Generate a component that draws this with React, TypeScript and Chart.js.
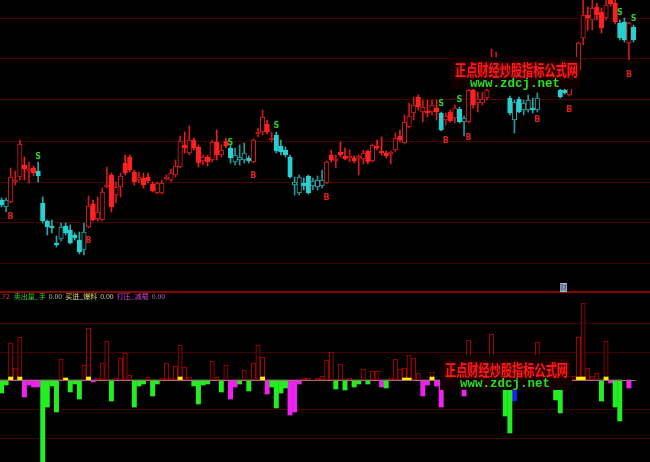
import React, { useEffect, useRef } from 'react';
import { Chart, registerables } from 'chart.js';

Chart.register(...registerables);

// ---- Daily price data (one entry per trading day) ----
const open = [
  100, 93, 98, 118, 123, 135, 129, 132, 129, 97,
  79, 74, 57, 61, 74, 70, 65, 60, 50, 73,
  96, 81, 80, 113, 125, 105, 113, 137, 143, 128,
  120, 122, 123, 116, 107, 107, 121, 120, 125, 133,
  155, 147, 160, 153, 139, 143, 140, 158, 145, 159,
  152, 138, 140, 140, 142, 138, 166, 168, 176, 160,
  165, 154, 150, 143, 115, 107, 117, 124, 114, 113,
  114, 117, 145, 139, 148, 144, 142, 142, 142, 141,
  149, 139, 154, 149, 147, 146, 150, 164, 157, 173,
  187, 203, 188, 189, 188, 192, 187, 180, 188, 182,
  191, 178, 178, 210, 197, 197, 202, 214, 220, 232,
  228, 202, 180, 201, 190, 190, 192, 190, 212, 228,
  220, 224, 210, 210, 205, 214, 230, 262, 285, 280,
  293, 288, 282, 300, 297, 277, 278, 257, 273,
];
const high = [
  102, 102, 132, 129, 160, 143, 138, 134, 138, 103,
  80, 80, 64, 77, 77, 75, 67, 68, 77, 104,
  100, 103, 112, 133, 127, 118, 127, 145, 145, 130,
  128, 127, 127, 118, 118, 120, 125, 131, 140, 164,
  168, 174, 162, 155, 145, 145, 160, 170, 155, 162,
  155, 152, 155, 157, 144, 161, 172, 190, 180, 168,
  168, 160, 153, 145, 123, 125, 122, 125, 122, 124,
  130, 139, 150, 145, 158, 152, 150, 144, 145, 150,
  150, 156, 160, 163, 149, 149, 167, 170, 185, 197,
  203, 205, 200, 200, 200, 200, 188, 187, 190, 195,
  193, 184, 212, 212, 208, 208, 215, 251, 248, 238,
  234, 204, 200, 203, 200, 205, 202, 207, 226, 234,
  236, 230, 212, 212, 215, 242, 258, 300, 293, 300,
  297, 292, 300, 302, 300, 280, 282, 278, 275,
];
const low = [
  93, 88, 97, 115, 120, 120, 117, 124, 118, 77,
  65, 67, 53, 59, 65, 56, 60, 46, 45, 72,
  79, 79, 79, 112, 88, 97, 103, 125, 128, 115,
  117, 112, 117, 108, 106, 106, 120, 118, 123, 132,
  147, 145, 150, 133, 135, 134, 138, 140, 143, 152,
  137, 135, 135, 137, 137, 137, 163, 165, 166, 158,
  147, 145, 143, 122, 105, 105, 110, 106, 110, 110,
  112, 116, 138, 132, 143, 140, 138, 137, 125, 136,
  136, 138, 150, 145, 142, 136, 148, 158, 156, 172,
  180, 190, 178, 183, 185, 180, 169, 175, 178, 177,
  177, 164, 177, 192, 188, 195, 200, 211, 216, 212,
  212, 185, 167, 187, 185, 188, 187, 188, 211, 214,
  214, 212, 202, 206, 204, 212, 228, 255, 270, 270,
  280, 267, 280, 294, 276, 260, 258, 240, 258,
];
const close = [
  95, 100, 123, 120, 156, 131, 130, 127, 124, 79,
  73, 72, 55, 73, 67, 57, 62, 48, 68, 94,
  80, 88, 108, 115, 93, 113, 124, 127, 130, 118,
  123, 115, 119, 109, 117, 117, 123, 127, 134, 159,
  152, 160, 152, 137, 143, 138, 158, 145, 150, 154,
  142, 145, 143, 147, 139, 160, 168, 183, 168, 162,
  149, 148, 145, 123, 118, 123, 114, 107, 119, 120,
  120, 138, 140, 141, 145, 141, 144, 139, 144, 147,
  138, 155, 152, 147, 144, 148, 162, 160, 178, 184,
  195, 193, 193, 187, 195, 188, 170, 184, 179, 192,
  178, 182, 210, 195, 201, 201, 210, 238, 240, 218,
  214, 187, 198, 188, 197, 200, 190, 202, 220, 218,
  230, 214, 203, 207, 212, 236, 257, 285, 282, 292,
  285, 272, 295, 296, 278, 262, 260, 277, 260,
];
// indicator state per day: 1 = strong zone (red candles), 0 = weak zone (cyan candles)
const zone = [
  0, 0, 1, 1, 1, 1, 1, 1, 0, 0,
  0, 0, 0, 0, 0, 0, 0, 0, 0, 1,
  1, 1, 1, 1, 1, 1, 1, 1, 1, 1,
  1, 1, 1, 1, 1, 1, 1, 1, 1, 1,
  1, 1, 1, 1, 1, 1, 1, 1, 1, 1,
  0, 0, 0, 0, 0, 1, 1, 1, 1, 1,
  0, 0, 0, 0, 0, 0, 0, 0, 0, 0,
  0, 1, 1, 1, 1, 1, 1, 1, 1, 1,
  1, 1, 1, 1, 1, 1, 1, 1, 1, 1,
  1, 1, 1, 1, 1, 1, 0, 1, 1, 1,
  0, 0, 1, 1, 1, 1, 1, 1, 1, 1,
  0, 0, 0, 0, 0, 0, 0, 0, 0, 0,
  1, 0, 0, 0, 1, 1, 1, 1, 1, 1,
  1, 1, 1, 1, 1, 0, 0, 1, 0,
];

// signals: [day, price where the letter sits]
const sellSignals = [[8, 143], [50, 157], [60, 174], [96, 196], [100, 200], [135, 287], [138, 281]];
const buySignals = [[2, 83], [19, 59], [55, 124], [71, 102], [97, 159], [102, 162], [117, 180], [124, 190], [137, 225]];

const priceGridLevels = [282, 242, 201, 159, 118, 78, 37];
const volGridLevels = [57, 28, -29, -58];

// ---- lower panel series: [day, value] ----
const volumePairs = [
  [2, 37], [3, 12], [4, 43], [13, 21], [14, 2], [18, 15], [19, 52], [21, 2], [22, 17], [23, 39],
  [25, 2], [26, 22], [27, 27], [28, 5], [32, 3], [35, 2], [36, 17], [37, 2], [38, 14], [39, 35],
  [40, 13], [41, 3], [46, 19], [47, 3], [49, 15], [53, 10], [55, 17], [56, 35], [57, 23], [66, 2],
  [67, 2], [69, 2], [70, 4], [71, 20], [72, 28], [74, 16], [76, 2], [79, 11], [81, 9], [82, 9],
  [85, 2], [86, 21], [87, 11], [88, 12], [89, 25], [90, 22], [91, 7], [94, 8], [98, 8], [99, 5],
  [102, 40], [104, 10], [105, 6], [106, 12], [107, 46], [108, 15], [109, 5], [114, 6], [115, 9], [117, 38],
  [118, 12], [119, 4], [120, 8], [124, 6], [125, 4], [126, 43], [127, 77], [128, 12], [129, 4], [130, 7],
  [132, 39],
];
const sellQtyPairs = [
  [0, -13], [1, -5], [9, -85], [10, -27], [11, -6], [12, -32], [15, -12], [16, -4], [17, -19], [24, -21],
  [29, -27], [30, -6], [31, -4], [33, -16], [34, -4], [42, -6], [43, -24], [44, -5], [45, -4], [48, -12],
  [52, -4], [54, -11], [59, -7], [60, -28], [61, -13], [62, -8], [73, -9], [75, -10], [77, -7], [78, -4],
  [80, -4], [84, -8], [97, -6], [110, -36], [111, -53], [113, -5], [116, -8], [121, -20], [122, -33], [131, -21],
  [134, -27], [135, -41],
];
const pressPairs = [
  [5, -17], [6, -5], [7, -7], [8, -7], [20, -2], [50, -19], [51, -7], [58, -14], [63, -35], [64, -32],
  [65, -4], [83, -7], [92, -16], [93, -5], [95, -6], [96, -27], [100, -8], [101, -16], [133, -3], [137, -8],
];
const blockPairs = [[112, -21]];
const buyPairs = [[2, 3], [4, 3], [14, 2], [19, 3], [39, 3], [57, 3], [88, 2], [89, 2], [94, 3], [126, 3], [127, 3], [132, 3]];

const legendLead = '.72';
const legendNames = ['卖出量_手', '买进_爆料', '打压_减载'];
const legendValues = ['0.00', '0.00', '0.00'];
const watermarkTitle = '正点财经炒股指标公式网';
const watermarkUrl = 'www.zdcj.net';

const N = open.length;
const X_MIN = -0.33;
const X_MAX = 141.6;

function fromPairs(pairs: number[][]) {
  return pairs.map(([i, v]) => ({ x: i, y: v }));
}

function candleStyles() {
  const body: string[] = [];
  const border: string[] = [];
  const wick: string[] = [];
  for (let i = 0; i < N; i++) {
    const up = close[i] >= open[i];
    if (zone[i] === 1) {
      if (up) { body.push('#000000'); border.push('#e01c1c'); wick.push('#d21818'); }
      else { body.push('#ff2020'); border.push('#ff2020'); wick.push('#f01c1c'); }
    } else {
      if (up) { body.push('#000000'); border.push('#2ba8a8'); wick.push('#249a9a'); }
      else { body.push('#28d0d0'); border.push('#28d0d0'); wick.push('#22acac'); }
    }
  }
  return { body, border, wick };
}

function drawWatermark(ctx: CanvasRenderingContext2D, bx: number, by: number, bw: number, bh: number,
  tx: number, tcy: number, tw: number, ux: number, ub: number, uw: number) {
  ctx.save();
  ctx.fillStyle = '#110000';
  ctx.fillRect(bx, by, bw, bh);
  ctx.restore();

  ctx.save();
  ctx.font = 'bold 16px "Noto Sans CJK SC"';
  ctx.textAlign = 'left';
  ctx.textBaseline = 'middle';
  const w1 = ctx.measureText(watermarkTitle).width;
  ctx.translate(tx, tcy);
  ctx.scale(tw / w1, 1);
  ctx.shadowColor = 'rgba(150,0,0,0.9)';
  ctx.shadowBlur = 4;
  ctx.fillStyle = '#ff1818';
  ctx.fillText(watermarkTitle, 0, 0);
  ctx.restore();

  ctx.save();
  ctx.font = 'bold 13px "Liberation Mono"';
  ctx.textAlign = 'left';
  ctx.textBaseline = 'alphabetic';
  const w2 = ctx.measureText(watermarkUrl).width;
  ctx.translate(ux, ub);
  ctx.scale(uw / w2, 1);
  ctx.fillStyle = '#22e022';
  ctx.fillText(watermarkUrl, 0, 0);
  ctx.restore();
}

const topDecor = {
  id: 'topDecor',
  beforeDatasetsDraw(chart: any) {
    const { ctx, scales } = chart;
    ctx.save();
    ctx.strokeStyle = '#420000';
    ctx.lineWidth = 1;
    priceGridLevels.forEach((v) => {
      const py = Math.round(scales.y.getPixelForValue(v)) + 0.5;
      ctx.beginPath();
      ctx.moveTo(0, py);
      ctx.lineTo(chart.width, py);
      ctx.stroke();
    });
    ctx.restore();
  },
  afterDatasetsDraw(chart: any) {
    const { ctx, scales } = chart;
    ctx.save();
    ctx.font = 'bold 8px "DejaVu Sans"';
    ctx.textAlign = 'center';
    ctx.textBaseline = 'middle';
    ctx.fillStyle = '#2ed02e';
    sellSignals.forEach(([i, p]) => ctx.fillText('S', scales.x.getPixelForValue(i), scales.y.getPixelForValue(p)));
    ctx.fillStyle = '#dd2020';
    buySignals.forEach(([i, p]) => ctx.fillText('B', scales.x.getPixelForValue(i), scales.y.getPixelForValue(p)));
    ctx.restore();
    drawWatermark(ctx, 450, 57, 130, 32, 455, 69.5, 123, 470, 87, 90);
  },
};

const bottomDecor = {
  id: 'bottomDecor',
  beforeDatasetsDraw(chart: any) {
    const { ctx, scales } = chart;
    ctx.save();
    ctx.strokeStyle = '#420000';
    ctx.lineWidth = 1;
    volGridLevels.forEach((v) => {
      const py = Math.round(scales.y.getPixelForValue(v)) + 0.5;
      ctx.beginPath();
      ctx.moveTo(0, py);
      ctx.lineTo(chart.width, py);
      ctx.stroke();
    });
    ctx.restore();
  },
  afterDatasetsDraw(chart: any) {
    const { ctx, scales } = chart;
    ctx.save();
    const zy = Math.round(scales.y.getPixelForValue(0)) + 0.5;
    ctx.strokeStyle = '#a07070';
    ctx.lineWidth = 1;
    ctx.beginPath();
    ctx.moveTo(0, zy);
    ctx.lineTo(scales.x.getPixelForValue(N - 0.5), zy);
    ctx.stroke();
    ctx.restore();

    drawWatermark(ctx, 440, 65, 132, 35, 445, 79.5, 123, 460, 97, 90);

    ctx.save();
    ctx.fillStyle = '#880000';
    ctx.fillRect(0, 1, chart.width, 2);
    ctx.restore();

    ctx.save();
    ctx.font = '7px "Noto Sans CJK SC"';
    ctx.textBaseline = 'middle';
    ctx.textAlign = 'left';
    const nameColors = ['#33cc33', '#d8d870', '#cc44cc'];
    const valColors = ['#9ccc9c', '#d8d890', '#b070c0'];
    let cx = 0;
    ctx.fillStyle = '#c83c3c';
    ctx.fillText(legendLead, cx, 6.5);
    cx += ctx.measureText(legendLead).width + 4;
    legendNames.forEach((name, k) => {
      ctx.fillStyle = nameColors[k];
      ctx.fillText(name, cx, 6.5);
      cx += ctx.measureText(name).width + 3;
      ctx.fillStyle = valColors[k];
      ctx.fillText(legendValues[k], cx, 6.5);
      cx += ctx.measureText(legendValues[k]).width + 3;
    });
    ctx.restore();
  },
};

const baseOptions = (yMin: number, yMax: number) => ({
  responsive: false,
  maintainAspectRatio: false,
  animation: false as const,
  devicePixelRatio: 1,
  events: [] as any[],
  layout: { padding: 0 },
  plugins: { legend: { display: false }, tooltip: { enabled: false } },
  scales: {
    x: { type: 'linear' as const, min: X_MIN, max: X_MAX, display: false, offset: false },
    y: { type: 'linear' as const, min: yMin, max: yMax, display: false },
  },
});

export default function App() {
  const topRef = useRef<HTMLCanvasElement>(null);
  const botRef = useRef<HTMLCanvasElement>(null);

  useEffect(() => {
    document.body.style.margin = '0';
    document.body.style.background = '#000';
    const st = candleStyles();
    const idx = open.map((_, i) => i);

    const top = new Chart(topRef.current as HTMLCanvasElement, {
      type: 'bar',
      data: {
        datasets: [
          {
            data: idx.map((i) => ({ x: i, y: [low[i], high[i]] })) as any,
            backgroundColor: st.wick,
            borderWidth: 0,
            barThickness: 1,
            grouped: false,
            order: 2,
          } as any,
          {
            data: idx.map((i) => ({ x: i, y: [open[i], close[i]] })) as any,
            backgroundColor: st.body,
            borderColor: st.border,
            borderWidth: 1,
            borderSkipped: false,
            barThickness: 4.5,
            minBarLength: 2,
            grouped: false,
            order: 1,
          } as any,
        ],
      },
      options: baseOptions(10, 300) as any,
      plugins: [topDecor],
    });

    const bot = new Chart(botRef.current as HTMLCanvasElement, {
      type: 'bar',
      data: {
        datasets: [
          { data: fromPairs(volumePairs), backgroundColor: '#000000', borderColor: '#b80000', borderWidth: 1, borderSkipped: false, barThickness: 4.3, grouped: false, order: 3 } as any,
          { data: fromPairs(sellQtyPairs), backgroundColor: '#22ee22', borderWidth: 0, barThickness: 4.3, grouped: false, order: 2 } as any,
          { data: fromPairs(pressPairs), backgroundColor: '#ee22ee', borderWidth: 0, barThickness: 4.3, grouped: false, order: 2 } as any,
          { data: fromPairs(blockPairs), backgroundColor: '#1a1aff', borderWidth: 0, barThickness: 4.3, grouped: false, order: 2 } as any,
          { data: fromPairs(buyPairs), backgroundColor: '#ffee00', borderWidth: 0, barThickness: 4.3, grouped: false, order: 1 } as any,
        ],
      },
      options: baseOptions(-82, 90) as any,
      plugins: [bottomDecor],
    });

    return () => {
      top.destroy();
      bot.destroy();
    };
  }, []);

  return (
    <div style={{ position: 'relative', width: 650, height: 462, background: '#000', overflow: 'hidden' }}>
      <canvas ref={topRef} width={650} height={290} style={{ position: 'absolute', left: 0, top: 0, width: 650, height: 290 }} />
      <canvas ref={botRef} width={650} height={172} style={{ position: 'absolute', left: 0, top: 290, width: 650, height: 172 }} />
      <div
        style={{
          position: 'absolute', left: 560, top: 283, width: 7, height: 9, background: '#9fb3cc', color: '#2a3a66',
          fontSize: 7, lineHeight: '9px', textAlign: 'center', fontFamily: '"Noto Sans CJK SC"', overflow: 'hidden',
        }}
      >
        财
      </div>
    </div>
  );
}
